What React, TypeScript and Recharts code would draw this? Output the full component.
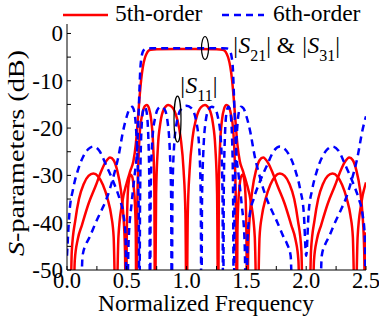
import React from 'react';
import { LineChart, Line, XAxis, YAxis, ReferenceDot } from 'recharts';

// 5th-order |S21| (= |S31|)
const red21Freq = [0.0, 0.025, 0.04, 0.07, 0.1, 0.14, 0.18, 0.22, 0.26, 0.3, 0.34, 0.37, 0.39, 0.41, 0.43, 0.46, 0.5, 0.53, 0.555, 0.575, 0.59, 0.605, 0.62, 0.635, 0.65, 0.665, 0.68, 0.7, 0.75, 1.0, 1.25, 1.3, 1.32, 1.335, 1.35, 1.365, 1.38, 1.395, 1.41, 1.425, 1.445, 1.47, 1.5, 1.54, 1.57, 1.59, 1.61, 1.63, 1.66, 1.7, 1.74, 1.78, 1.82, 1.86, 1.9, 1.93, 1.96, 1.975, 2.0, 2.025, 2.04, 2.07, 2.1, 2.14, 2.18, 2.22, 2.26, 2.3, 2.34, 2.37, 2.39, 2.41, 2.43, 2.46, 2.5];
const red21Db = [-58, -62, -46, -39.4, -35, -31.8, -30.1, -29.6, -30.2, -32, -35, -38.5, -43, -62, -43, -36, -31.5, -29, -27, -23.5, -19, -14, -9.8, -7, -5.3, -4.3, -3.7, -3.45, -3.35, -3.3, -3.35, -3.45, -3.7, -4.3, -5.3, -7, -9.8, -14, -19, -23.5, -27, -29, -31.5, -36, -43, -62, -43, -38.5, -35, -32, -30.2, -29.6, -30.1, -31.8, -35, -39.4, -46, -62, -58, -62, -46, -39.4, -35, -31.8, -30.1, -29.6, -30.2, -32, -35, -38.5, -43, -62, -43, -36, -31.5];

// 5th-order |S11|
const red11Freq = [0.0, 0.05, 0.065, 0.09, 0.125, 0.18, 0.24, 0.28, 0.32, 0.36, 0.39, 0.42, 0.45, 0.47, 0.485, 0.493, 0.5, 0.508, 0.518, 0.53, 0.545, 0.558, 0.568, 0.575, 0.58, 0.587, 0.597, 0.61, 0.63, 0.65, 0.667, 0.685, 0.705, 0.72, 0.73, 0.736, 0.745, 0.76, 0.78, 0.81, 0.847, 0.88, 0.92, 0.95, 0.975, 0.99, 1.0, 1.01, 1.025, 1.05, 1.08, 1.12, 1.153, 1.19, 1.22, 1.24, 1.255, 1.264, 1.27, 1.28, 1.295, 1.315, 1.333, 1.35, 1.37, 1.39, 1.403, 1.413, 1.42, 1.425, 1.432, 1.442, 1.455, 1.47, 1.482, 1.492, 1.5, 1.507, 1.515, 1.53, 1.55, 1.58, 1.61, 1.64, 1.68, 1.72, 1.76, 1.82, 1.875, 1.91, 1.935, 1.95, 2.0, 2.05, 2.065, 2.09, 2.125, 2.18, 2.24, 2.28, 2.32, 2.36, 2.39, 2.42, 2.45, 2.47, 2.485, 2.493, 2.5];
const red11Db = [-58, -62, -48, -43.5, -40.5, -36, -32.2, -29.5, -27.3, -26.2, -26.8, -29, -33, -38, -46, -62, -42, -34, -31, -29.8, -30.3, -32.5, -36, -42, -62, -38, -27, -20.5, -17, -15.4, -15.1, -15.8, -18.5, -23.5, -32, -62, -34, -24, -19, -16, -15.1, -15.6, -18, -22, -29, -38, -62, -38, -29, -22, -18, -15.6, -15.1, -16, -19, -24, -34, -62, -32, -23.5, -18.5, -15.8, -15.1, -15.4, -17, -20.5, -27, -38, -62, -42, -36, -32.5, -30.3, -29.8, -31, -34, -42, -62, -46, -38, -33, -29, -26.8, -26.2, -27.3, -29.5, -32.2, -36, -40.5, -43.5, -48, -62, -58, -62, -48, -43.5, -40.5, -36, -32.2, -29.5, -27.3, -26.2, -26.8, -29, -33, -38, -46, -62, -42];

// 6th-order |S21| (= |S31|)
const blue21Freq = [0.0, 0.02, 0.05, 0.09, 0.136, 0.18, 0.22, 0.27, 0.33, 0.39, 0.44, 0.47, 0.49, 0.5, 0.515, 0.54, 0.565, 0.585, 0.595, 0.605, 0.613, 0.622, 0.632, 0.645, 0.66, 0.7, 1.0, 1.3, 1.34, 1.355, 1.368, 1.378, 1.387, 1.395, 1.405, 1.415, 1.435, 1.46, 1.485, 1.5, 1.51, 1.53, 1.56, 1.61, 1.67, 1.73, 1.78, 1.82, 1.864, 1.91, 1.95, 1.98, 2.0, 2.02, 2.05, 2.09, 2.136, 2.18, 2.22, 2.27, 2.33, 2.39, 2.44, 2.47, 2.49, 2.5];
const blue21Db = [-47, -38, -33, -29, -26, -24.4, -23.9, -24.8, -28, -31.5, -35, -38, -43, -62, -44, -36, -30, -25, -19.5, -12.5, -7.5, -5.2, -4, -3.4, -3.2, -3.15, -3.15, -3.15, -3.2, -3.4, -4, -5.2, -7.5, -12.5, -19.5, -25, -30, -36, -44, -62, -43, -38, -35, -31.5, -28, -24.8, -23.9, -24.4, -26, -29, -33, -38, -47, -38, -33, -29, -26, -24.4, -23.9, -24.8, -28, -31.5, -35, -38, -43, -62];

// 6th-order |S11|
const blue11Freq = [0.0, 0.11, 0.13, 0.16, 0.19, 0.24, 0.29, 0.33, 0.38, 0.43, 0.47, 0.5, 0.525, 0.545, 0.562, 0.577, 0.59, 0.6, 0.605, 0.611, 0.62, 0.635, 0.65, 0.665, 0.68, 0.689, 0.694, 0.7, 0.715, 0.74, 0.765, 0.79, 0.815, 0.84, 0.86, 0.871, 0.876, 0.882, 0.895, 0.92, 0.96, 1.0, 1.04, 1.08, 1.105, 1.118, 1.124, 1.129, 1.14, 1.16, 1.185, 1.21, 1.235, 1.26, 1.285, 1.3, 1.306, 1.311, 1.32, 1.335, 1.35, 1.365, 1.38, 1.389, 1.395, 1.4, 1.41, 1.423, 1.438, 1.455, 1.475, 1.5, 1.53, 1.57, 1.62, 1.67, 1.71, 1.76, 1.81, 1.84, 1.87, 1.89, 2.0, 2.11, 2.13, 2.16, 2.19, 2.24, 2.29, 2.33, 2.38, 2.43, 2.47, 2.5];
const blue11Db = [-58, -62, -47, -44.5, -43, -40, -37.3, -35, -31, -26, -20.5, -17.5, -15.8, -15.5, -16.5, -20, -27, -38, -62, -35, -22, -16.5, -15.5, -16.5, -22, -33, -62, -33, -22, -17.5, -15.8, -15.5, -16, -18.5, -25, -35, -62, -34, -24, -18.5, -15.8, -15.3, -15.8, -18.5, -24, -34, -62, -35, -25, -18.5, -16, -15.5, -15.8, -17.5, -22, -33, -62, -33, -22, -16.5, -15.5, -16.5, -22, -35, -62, -38, -27, -20, -16.5, -15.5, -15.8, -17.5, -20.5, -26, -31, -35, -37.3, -40, -43, -44.5, -47, -62, -58, -62, -47, -44.5, -43, -40, -37.3, -35, -31, -26, -20.5, -17.5];

const xTickValues = [0, 0.25, 0.5, 0.75, 1, 1.25, 1.5, 1.75, 2, 2.25, 2.5];
const xLabelValues = [0, 0.5, 1, 1.5, 2, 2.5];
const yTickValues = [-50, -45, -40, -35, -30, -25, -20, -15, -10, -5, 0];
const yLabelValues = [-50, -40, -30, -20, -10, 0];

const FONT = '"Liberation Serif", "Times New Roman", serif';
const RED = '#ff0000';
const BLUE = '#0000ff';
const DASH = '7 5';

// plot box in page pixels
const LEFT = 67;
const RIGHT = 366;
const TOP = 24;
const BOTTOM = 270;

const toPoints = (freq: number[], db: number[]) => freq.map((f, i) => ({ f, db: db[i] }));

const BottomTick = (props: any) => {
  const { x, payload } = props;
  const v = payload.value;
  return (
    <g>
      <line x1={x} x2={x} y1={BOTTOM} y2={BOTTOM - 4} stroke="#000" />
      {xLabelValues.includes(v) && (
        <text x={x} y={288} textAnchor="middle" fontSize={22.5} fontFamily={FONT} fill="#000">
          {v.toFixed(1)}
        </text>
      )}
    </g>
  );
};

const TopTick = (props: any) => (
  <line x1={props.x} x2={props.x} y1={TOP} y2={TOP + 4} stroke="#000" />
);

const LeftTick = (props: any) => {
  const { y, payload } = props;
  const v = payload.value;
  return (
    <g>
      <line x1={LEFT} x2={LEFT + 4} y1={y} y2={y} stroke="#000" />
      {yLabelValues.includes(v) && (
        <text x={63} y={y + 8} textAnchor="end" fontSize={23} fontFamily={FONT} fill="#000">
          {v}
        </text>
      )}
    </g>
  );
};

const RightTick = (props: any) => (
  <line x1={RIGHT} x2={RIGHT - 4} y1={props.y} y2={props.y} stroke="#000" />
);

const Ellipse = (rx: number, ry: number) => (p: any) => (
  <ellipse cx={p.cx} cy={p.cy} rx={rx} ry={ry} fill="none" stroke="#000" strokeWidth={1.2} />
);

const App: React.FC = () => {
  return (
    <div style={{ position: 'absolute', left: 0, top: 0, width: 379, height: 320, background: '#fff' }}>
      <LineChart width={379} height={320} margin={{ top: TOP, right: 379 - RIGHT, bottom: 0, left: 0 }}>
        <XAxis
          dataKey="f"
          type="number"
          domain={[0, 2.5]}
          ticks={xTickValues}
          interval={0}
          allowDataOverflow
          height={320 - BOTTOM}
          tickLine={false}
          axisLine={{ stroke: '#000' }}
          tick={BottomTick}
        />
        <XAxis
          xAxisId="top"
          orientation="top"
          type="number"
          domain={[0, 2.5]}
          ticks={xTickValues}
          interval={0}
          height={0}
          tickLine={false}
          axisLine={{ stroke: '#000' }}
          tick={TopTick}
        />
        <YAxis
          type="number"
          domain={[-50, 2]}
          ticks={yTickValues}
          interval={0}
          allowDataOverflow
          width={LEFT}
          tickLine={false}
          axisLine={{ stroke: '#000' }}
          tick={LeftTick}
        />
        <YAxis
          yAxisId="right"
          orientation="right"
          type="number"
          domain={[-50, 2]}
          ticks={yTickValues}
          interval={0}
          width={0}
          tickLine={false}
          axisLine={{ stroke: '#000' }}
          tick={RightTick}
        />
        <Line data={toPoints(red21Freq, red21Db)} dataKey="db" type="monotone" stroke={RED} strokeWidth={2.5} dot={false} isAnimationActive={false} />
        <Line data={toPoints(red11Freq, red11Db)} dataKey="db" type="monotone" stroke={RED} strokeWidth={2.5} dot={false} isAnimationActive={false} />
        <Line data={toPoints(blue21Freq, blue21Db)} dataKey="db" type="monotone" stroke={BLUE} strokeWidth={2.5} strokeDasharray={DASH} dot={false} isAnimationActive={false} />
        <Line data={toPoints(blue11Freq, blue11Db)} dataKey="db" type="monotone" stroke={BLUE} strokeWidth={2.5} strokeDasharray={DASH} dot={false} isAnimationActive={false} />
        <ReferenceDot x={1.154} y={-3.07} r={0} ifOverflow="visible" shape={Ellipse(3.5, 11.5)} />
        <ReferenceDot x={0.924} y={-18.1} r={0} ifOverflow="visible" shape={Ellipse(3.5, 23)} />
      </LineChart>

      <svg width={379} height={320} style={{ position: 'absolute', left: 0, top: 0, pointerEvents: 'none' }}>
        <g fontFamily={FONT} fill="#000" fontSize={23.5}>
          {/* legend */}
          <line x1={63} x2={108} y1={15} y2={15} stroke={RED} strokeWidth={2.5} />
          <text x={115} y={21}>5th-order</text>
          <line x1={222} x2={264} y1={15} y2={15} stroke={BLUE} strokeWidth={2.5} strokeDasharray={DASH} />
          <text x={273} y={21}>6th-order</text>

          {/* axis titles */}
          <text x={206} y={311} textAnchor="middle">Normalized Frequency</text>
          <text
            transform="translate(24,153) rotate(-90)"
            textAnchor="middle"
            textLength={206}
            lengthAdjust="spacingAndGlyphs"
          >
            <tspan fontStyle="italic">S</tspan>-parameters (dB)
          </text>

          {/* annotations */}
          <text x={232} y={53}>
            <tspan fontStyle="italic">|S</tspan>
            <tspan fontSize={16} dy={8}>21</tspan>
            <tspan dy={-8}>| &amp; </tspan>
            <tspan fontStyle="italic">|S</tspan>
            <tspan fontSize={16} dy={8}>31</tspan>
            <tspan dy={-8}>|</tspan>
          </text>
          <text x={179} y={93}>
            <tspan fontStyle="italic">|S</tspan>
            <tspan fontSize={16} dy={8}>11</tspan>
            <tspan dy={-8}>|</tspan>
          </text>
        </g>
      </svg>
    </div>
  );
};

export default App;
